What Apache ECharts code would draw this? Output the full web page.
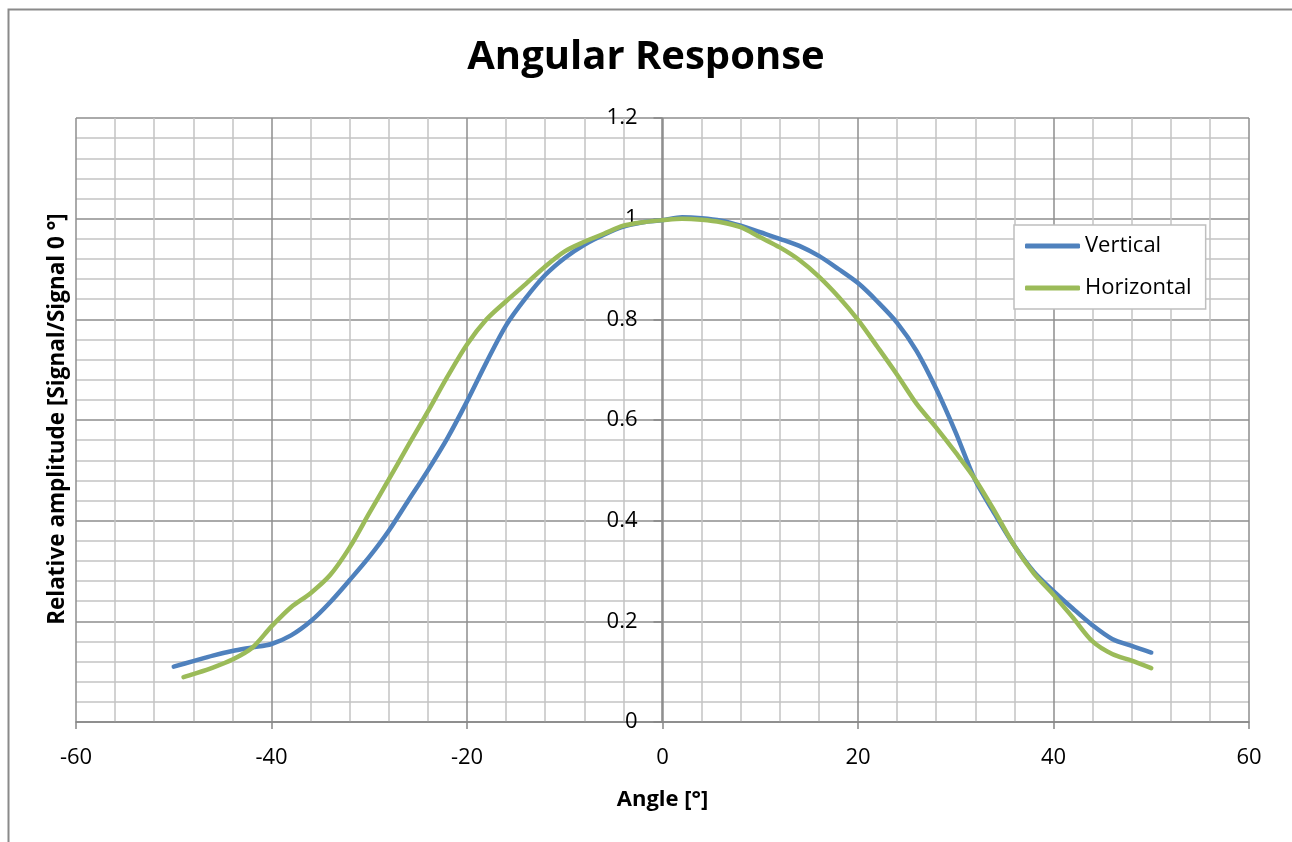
<!DOCTYPE html>
<html>
<head>
<meta charset="utf-8">
<script src="https://cdn.jsdelivr.net/npm/echarts@6/dist/echarts.min.js"></script>
<style>html,body{margin:0;padding:0;background:#fff}#c{width:1292px;height:842px}</style>
</head>
<body>
<div id="c"></div>
<script>
const titleText = 'Angular Response';
const xName = 'Angle [°]';
const yName = 'Relative amplitude [Signal/Signal 0 °]';
const seriesNames = ['Vertical', 'Horizontal'];

const verticalAngles = [-50,-48,-46,-44,-42,-40,-38,-36,-34,-32,-30,-28,-26,-24,-22,-20,-18,-16,-14,-12,-10,-8,-6,-4,-2,0,2,4,6,8,10,12,14,16,18,20,22,24,26,28,30,32,34,36,38,40,42,44,46,48,50];
const verticalValues = [0.110,0.121,0.132,0.141,0.148,0.155,0.172,0.200,0.238,0.282,0.328,0.380,0.440,0.500,0.564,0.637,0.715,0.788,0.842,0.888,0.922,0.948,0.968,0.984,0.993,0.997,1.003,1.001,0.996,0.986,0.973,0.960,0.946,0.926,0.900,0.872,0.835,0.793,0.737,0.662,0.575,0.480,0.413,0.350,0.298,0.260,0.225,0.192,0.165,0.151,0.138];

const horizontalAngles = [-49,-48,-46,-44,-42,-40,-38,-36,-34,-32,-30,-28,-26,-24,-22,-20,-18,-16,-14,-12,-10,-8,-6,-4,-2,0,2,4,6,8,10,12,14,16,18,20,22,24,26,28,30,32,34,36,38,40,42,44,46,48,50];
const horizontalValues = [0.089,0.095,0.108,0.124,0.147,0.190,0.228,0.256,0.292,0.347,0.415,0.482,0.550,0.617,0.686,0.750,0.800,0.836,0.870,0.905,0.935,0.954,0.970,0.986,0.993,0.997,1.000,0.998,0.993,0.983,0.963,0.943,0.918,0.885,0.845,0.799,0.745,0.690,0.632,0.585,0.535,0.482,0.418,0.350,0.295,0.253,0.207,0.160,0.135,0.122,0.107];

const FONT = '"Open Sans", "Noto Sans", sans-serif';
const toPairs = (xs, ys) => xs.map((x, i) => [x, ys[i]]);

const chart = echarts.init(document.getElementById('c'), null, {renderer: 'canvas'});
chart.setOption({
  animation: false,
  backgroundColor: '#fff',
  title: {
    text: titleText, left: 'center', top: 33,
    textStyle: {fontFamily: FONT, fontSize: 40, fontWeight: 'bold', color: '#000'}
  },
  grid: {left: 76, right: 43, top: 118, bottom: 120},
  legend: {
    orient: 'vertical', left: 1014, top: 225,
    padding: [7, 14, 7, 11], itemGap: 14,
    backgroundColor: '#fff', borderColor: '#BFBFBF', borderWidth: 1.5,
    icon: 'roundRect', itemWidth: 55, itemHeight: 5,
    textStyle: {fontFamily: FONT, fontSize: 22, color: '#000', lineHeight: 28},
    data: seriesNames
  },
  xAxis: {
    type: 'value', min: -60, max: 60, interval: 20,
    name: xName, nameLocation: 'middle', nameGap: 67,
    nameTextStyle: {fontFamily: FONT, fontSize: 22, fontWeight: 'bold', color: '#000'},
    axisLine: {show: true, onZero: false, lineStyle: {color: '#868686', width: 1.5}},
    axisTick: {show: true, inside: false, length: 7, lineStyle: {color: '#868686', width: 1.5}},
    axisLabel: {fontFamily: FONT, fontSize: 22, color: '#000', margin: 25},
    splitLine: {show: true, lineStyle: {color: '#8E8E8E', width: 1.5}},
    minorTick: {show: false, splitNumber: 5},
    minorSplitLine: {show: true, lineStyle: {color: '#C4C4C4', width: 1.5}}
  },
  yAxis: {
    type: 'value', min: 0, max: 1.2, interval: 0.2,
    offset: -585.5,
    axisLine: {show: true, onZero: false, lineStyle: {color: '#868686', width: 1.5}},
    axisTick: {show: true, inside: false, length: 8, lineStyle: {color: '#868686', width: 1.5}},
    axisLabel: {fontFamily: FONT, fontSize: 22, color: '#000', margin: 24},
    splitLine: {show: true, lineStyle: {color: '#8E8E8E', width: 1.5}},
    minorTick: {show: false, splitNumber: 5},
    minorSplitLine: {show: true, lineStyle: {color: '#C4C4C4', width: 1.5}}
  },
  graphic: [
    {type: 'rect', left: 6, top: 7, shape: {width: 1285, height: 860},
     style: {fill: 'none', stroke: '#8A8A8A', lineWidth: 2}, silent: true, z: -1},
    {type: 'text', x: 58, y: 419, rotation: Math.PI / 2,
     style: {text: yName, fontFamily: FONT, fontSize: 22.5, fontWeight: 'bold', fill: '#000',
             align: 'center', verticalAlign: 'middle'}}
  ],
  series: [
    {name: seriesNames[0], type: 'line', data: toPairs(verticalAngles, verticalValues),
     smooth: 0.3, showSymbol: false, symbol: 'none',
     lineStyle: {color: '#4F81BD', width: 4.5, cap: 'round'}, itemStyle: {color: '#4F81BD'}, z: 3},
    {name: seriesNames[1], type: 'line', data: toPairs(horizontalAngles, horizontalValues),
     smooth: 0.3, showSymbol: false, symbol: 'none',
     lineStyle: {color: '#9BBB59', width: 4.5, cap: 'round'}, itemStyle: {color: '#9BBB59'}, z: 4}
  ]
});
</script>
</body>
</html>
